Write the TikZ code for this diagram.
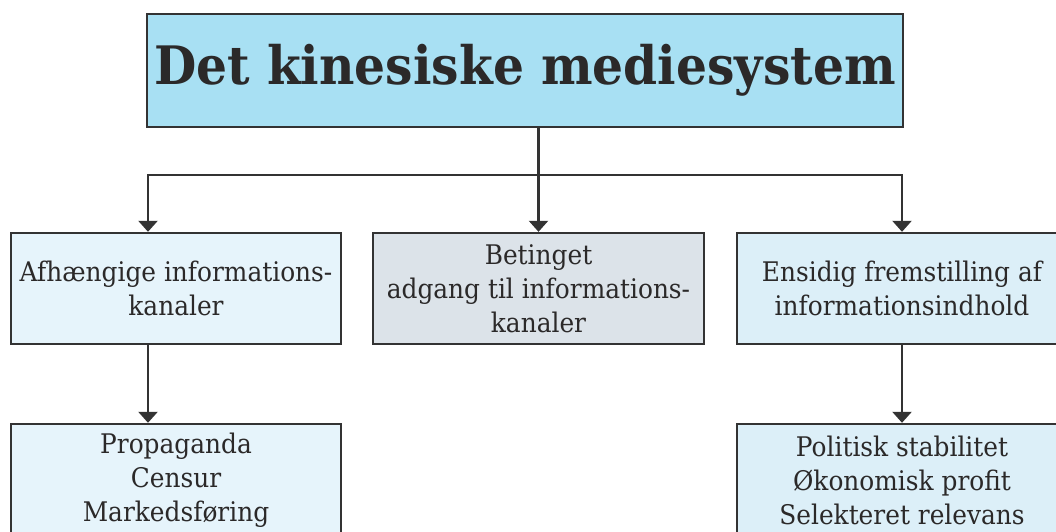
\documentclass[tikz,border=0pt]{standalone}
\usepackage{fontspec}
\setmainfont[FakeStretch=0.92]{DejaVu Serif}
\usetikzlibrary{arrows.meta}
\definecolor{titlefill}{HTML}{A8E0F3}
\definecolor{paleblue}{HTML}{E6F4FB}
\definecolor{greyblue}{HTML}{DCE3E9}
\definecolor{skyblue}{HTML}{DCEFF8}
\definecolor{ink}{HTML}{2B2929}
\definecolor{edge}{HTML}{333333}
\begin{document}
\begin{tikzpicture}[x=1pt,y=-1pt,
  box/.style={draw=edge, line width=2.4pt, rectangle, inner sep=0pt,
    minimum width=330pt, minimum height=111pt, align=center, text=ink,
    font=\fontsize{27}{34}\selectfont},
  link/.style={draw=edge, line width=2.4pt, line join=miter},
  arr/.style={link, -{Triangle[width=19pt,length=11pt]}}]
\useasboundingbox (0,0) rectangle (1056,531);
\clip (0,0) rectangle (1056,531);

% heading
\node[box, fill=titlefill, minimum width=756pt, minimum height=113pt,
  font=\bfseries\fontsize{53}{60}\selectfont] (title) at (525,70.5)
  {Det kinesiske mediesystem};

% second row
\node[box, fill=paleblue] (afh) at (176,288.5)
  {Afhængige informations-\\kanaler};
\node[box, fill=greyblue, minimum width=331pt] (bet) at (538.5,288.5)
  {Betinget\\adgang til informations-\\kanaler};
\node[box, fill=skyblue] (ens) at (902,288.5)
  {Ensidig fremstilling af\\informationsindhold};

% third row
\node[box, fill=paleblue, minimum height=112pt] (prop) at (176,480)
  {Propaganda\\Censur\\Markedsføring};
\node[box, fill=skyblue, minimum height=112pt] (pol) at (902,480)
  {Politisk stabilitet\\Økonomisk profit\\Selekteret relevans};

% connectors
\coordinate (j) at (bet.north |- 0,175);
\coordinate (la) at (148,175);
\coordinate (ra) at (ens.north |- 0,175);
\draw[arr] (title.south -| bet.north) -- (bet.north);
\draw[arr] (j) -- (la) -- (la |- afh.north);
\draw[arr] (j) -- (ra) -- (ens.north);
\draw[arr] (la |- afh.south) -- (la |- prop.north);
\draw[arr] (ens.south) -- (pol.north);
\end{tikzpicture}
\end{document}
